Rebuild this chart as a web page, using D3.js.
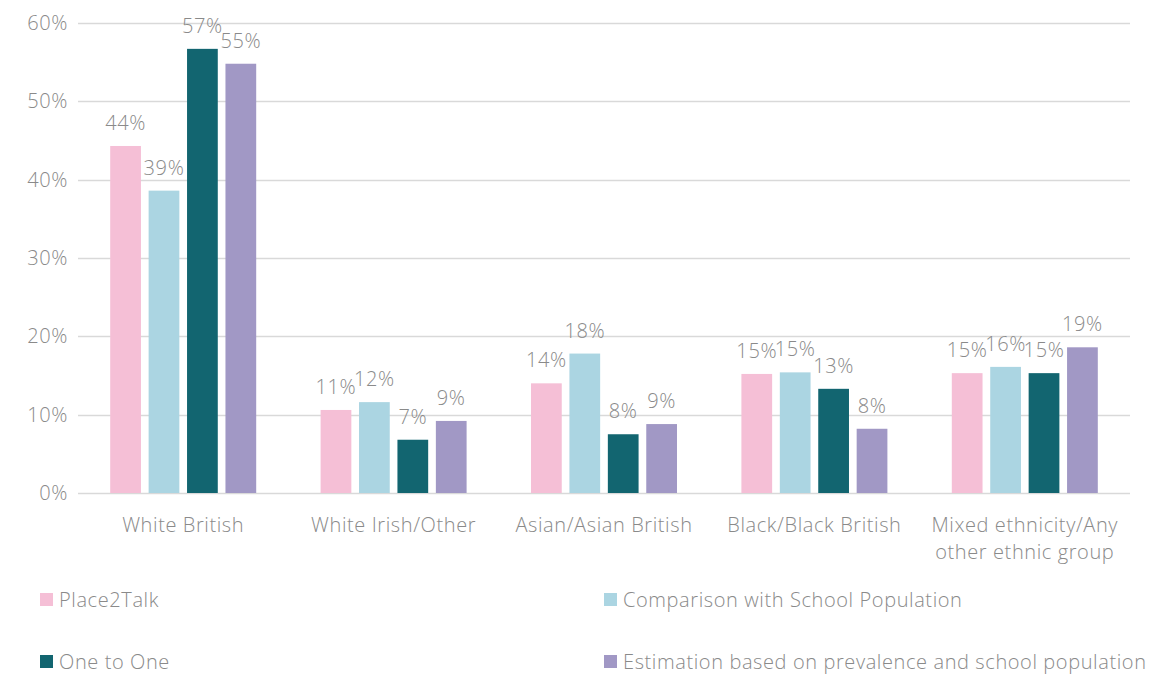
<!DOCTYPE html>
<html>
<head>
<meta charset="utf-8">
<script src="https://cdn.jsdelivr.net/npm/d3@7"></script>
<style>
  body { margin: 0; background: #fff; }
  text { font-family: "Open Sans", "Noto Sans", sans-serif; fill: #8a8a8a; font-weight: 300; letter-spacing: 0.6px; }
</style>
</head>
<body>
<svg id="chart" width="1156" height="674"></svg>
<script>
'use strict';

// categories and series
var categories = [
  ["White British"],
  ["White Irish/Other"],
  ["Asian/Asian British"],
  ["Black/Black British"],
  ["Mixed ethnicity/Any", "other ethnic group"]
];
var seriesNames = [
  "Place2Talk",
  "Comparison with School Population",
  "One to One",
  "Estimation based on prevalence and school population"
];
var seriesColors = ["#f5bfd6", "#abd5e2", "#126570", "#a198c5"];

var place2Talk  = [44.3, 10.6, 14.0, 15.2, 15.3];
var comparison  = [38.6, 11.6, 17.8, 15.4, 16.1];
var oneToOne    = [56.7, 6.8, 7.5, 13.3, 15.3];
var estimation  = [54.8, 9.2, 8.8, 8.2, 18.6];
var labels = [
  ["44%", "11%", "14%", "15%", "15%"],
  ["39%", "12%", "18%", "15%", "16%"],
  ["57%", "7%", "8%", "13%", "15%"],
  ["55%", "9%", "9%", "8%", "19%"]
];
var yTicks = [0, 10, 20, 30, 40, 50, 60];

var values = [place2Talk, comparison, oneToOne, estimation];

var svg = d3.select('#chart');

var plot = { left: 78, right: 1130, top: 23, bottom: 493 };

var y = d3.scaleLinear().domain([0, 60]).range([plot.bottom, plot.top]);

var x0 = d3.scaleBand()
  .domain(d3.range(categories.length))
  .range([plot.left, plot.right]);

var gw = x0.bandwidth();
var x1 = d3.scaleBand()
  .domain(d3.range(seriesNames.length))
  .range([gw / 2 - 73, gw / 2 + 73])
  .paddingInner(0.2);

// gridlines
svg.append('g')
  .selectAll('line')
  .data(yTicks)
  .enter().append('line')
  .attr('x1', plot.left)
  .attr('x2', plot.right)
  .attr('y1', function(d) { return Math.round(y(d)) + 0.5; })
  .attr('y2', function(d) { return Math.round(y(d)) + 0.5; })
  .attr('stroke', '#d9d9d9')
  .attr('stroke-width', 1.5);

// y axis labels
var yAxis = d3.axisLeft(y).tickValues(yTicks)
  .tickFormat(function(d) { return d + '%'; })
  .tickSize(0).tickPadding(10);
var ya = svg.append('g')
  .attr('transform', 'translate(' + plot.left + ',0)')
  .call(yAxis);
ya.select('.domain').remove();
ya.selectAll('text')
  .attr('font-size', 20)
  .attr('fill', '#8a8a8a')
  .style('font-family', '"Open Sans", sans-serif');

// bars
var groups = svg.append('g')
  .selectAll('g')
  .data(categories)
  .enter().append('g')
  .attr('transform', function(d, i) { return 'translate(' + x0(i) + ',0)'; });

groups.each(function(c, ci) {
  var g = d3.select(this);
  values.forEach(function(vals, si) {
    g.append('rect')
      .attr('x', x1(si))
      .attr('y', y(vals[ci]))
      .attr('width', x1.bandwidth())
      .attr('height', y(0) - y(vals[ci]))
      .attr('fill', seriesColors[si]);
    g.append('text')
      .attr('x', x1(si) + x1.bandwidth() / 2)
      .attr('y', y(vals[ci]) - 16)
      .attr('text-anchor', 'middle')
      .attr('font-size', 20)
      .text(labels[si][ci]);
  });

  // category labels
  c.forEach(function(line, li) {
    g.append('text')
      .attr('x', gw / 2)
      .attr('y', 532 + li * 27)
      .attr('text-anchor', 'middle')
      .attr('font-size', 20)
      .text(line);
  });
});

// legend
var legendPos = [[40, 600], [604, 600], [40, 662], [604, 662]];
var legend = svg.append('g')
  .selectAll('g')
  .data(seriesNames)
  .enter().append('g')
  .attr('transform', function(d, i) {
    return 'translate(' + legendPos[i][0] + ',' + legendPos[i][1] + ')';
  });
legend.append('rect')
  .attr('x', 0).attr('y', -7)
  .attr('width', 13).attr('height', 13)
  .attr('fill', function(d, i) { return seriesColors[i]; });
legend.append('text')
  .attr('x', 19).attr('y', 7)
  .attr('font-size', 20)
  .text(function(d) { return d; });
</script>
</body>
</html>
